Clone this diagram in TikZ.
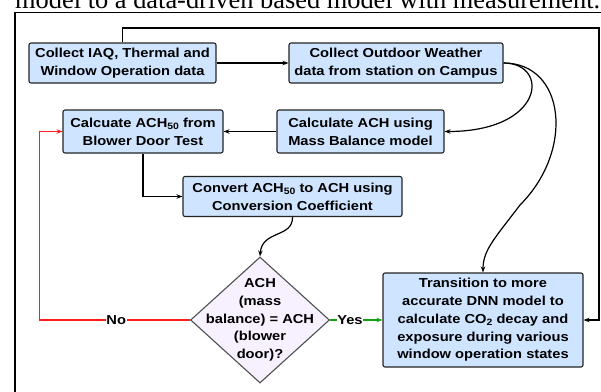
\documentclass[tikz,border=0pt]{standalone}
\usepackage{fontspec}
\usetikzlibrary{shapes.geometric,arrows.meta}
\newfontfamily\boxfont[FakeStretch=1.13]{Liberation Sans}
\newfontfamily\capfont{Liberation Serif}
\newcommand\subs[1]{\raisebox{-0.35ex}{\fontsize{9.2}{9}\selectfont #1}}
\definecolor{boxfill}{RGB}{206,228,255}
\definecolor{boxline}{RGB}{35,35,35}
\definecolor{diafill}{RGB}{247,240,255}
\definecolor{dialine}{RGB}{80,80,80}
\definecolor{nored}{RGB}{255,30,30}
\definecolor{yesgreen}{RGB}{20,160,20}
\tikzset{
  stepbox/.style={draw=boxline, fill=boxfill, rounded corners=2pt, line width=1.1pt,
    inner sep=0pt, align=center, font=\boxfont\bfseries\fontsize{13}{17.7}\selectfont},
  conn/.style={line width=1.2pt, -{Stealth[length=6pt,width=4.5pt]}},
  colconn/.style={line width=1.4pt, -{Stealth[length=6pt,width=4.5pt]}},
  lbl/.style={fill=white, inner sep=0.6pt, text=black, font=\boxfont\bfseries\fontsize{13}{14}\selectfont}
}
\begin{document}
\begin{tikzpicture}[x=1pt,y=-1pt]
\useasboundingbox (0,0) rectangle (601,391);
\clip (0,0) rectangle (601,391);
% caption fragment and frame
\node[anchor=base west, inner sep=0pt, font=\capfont\fontsize{26.4}{30}\selectfont] (cap) at (15,8) {model to a data-driven based model with measurement.};
\coordinate (fbl) at (15,420);
\coordinate (ftl) at (15,12.5);
\coordinate (ftr) at (640,12.5);
\draw[line width=1.5pt] (fbl) -- (ftl) -- (ftr);
% boxes
\node[stepbox, minimum width=187pt, minimum height=40pt] (b1) at (122.5,63) {Collect IAQ, Thermal and\\Window Operation data};
\node[stepbox, minimum width=214pt, minimum height=40pt] (b2) at (396,63) {Collect Outdoor Weather\\data from station on Campus};
\node[stepbox, minimum width=160pt, minimum height=43pt] (b3) at (143,131.5) {Calcuate ACH\subs{50} from\\Blower Door Test};
\node[stepbox, minimum width=167pt, minimum height=43pt] (b4) at (360.5,131.5) {Calculate ACH using\\Mass Balance model};
\node[stepbox, minimum width=219pt, minimum height=40pt] (b5) at (292.5,196.5) {Convert ACH\subs{50} to ACH using\\Conversion Coefficient};
\node[stepbox, minimum width=200pt, minimum height=94pt] (b6) at (483,320) {Transition to more\\accurate DNN model to\\calculate CO\subs{2} decay and\\exposure during various\\window operation states};
\node[diamond, draw=dialine, fill=diafill, line width=1.1pt, inner sep=0pt, minimum width=139pt, minimum height=126pt] (dia) at (260,320) {};
\node[align=center, inner sep=0pt, font=\boxfont\bfseries\fontsize{13}{17.7}\selectfont] (diat) at (dia.center) {ACH\\(mass\\balance) = ACH\\(blower\\door)?};
% connectors
\coordinate (tr) at (599,28);
\draw[conn] (b1.north) |- (tr) |- (b6.east);
\draw[conn] (b1.east) -- (b2.west);
\draw[conn] (b2.east) .. controls (550,63) and (545,131.5) .. (b4.east);
\coordinate (mid) at (520,205);
\draw[conn] (b2.east) .. controls (565,63) and (575,150) .. (mid) .. controls (495,238) and (483,250) .. (b6.north);
\draw[conn] (b4.west) -- (b3.east);
\draw[conn] (b3.south) |- (b5.west);
\draw[conn] (b5.south) .. controls (293,238) and (262,230) .. (dia.north);
\coordinate (nl) at (39.5,320);
\draw[colconn, draw=nored] (dia.west) -- node[lbl, pos=0.49] (no) {No} (nl) |- (b3.west);
\draw[colconn, draw=yesgreen] (dia.east) -- node[lbl, pos=0.38] (yes) {Yes} (b6.west);
\end{tikzpicture}
\end{document}
